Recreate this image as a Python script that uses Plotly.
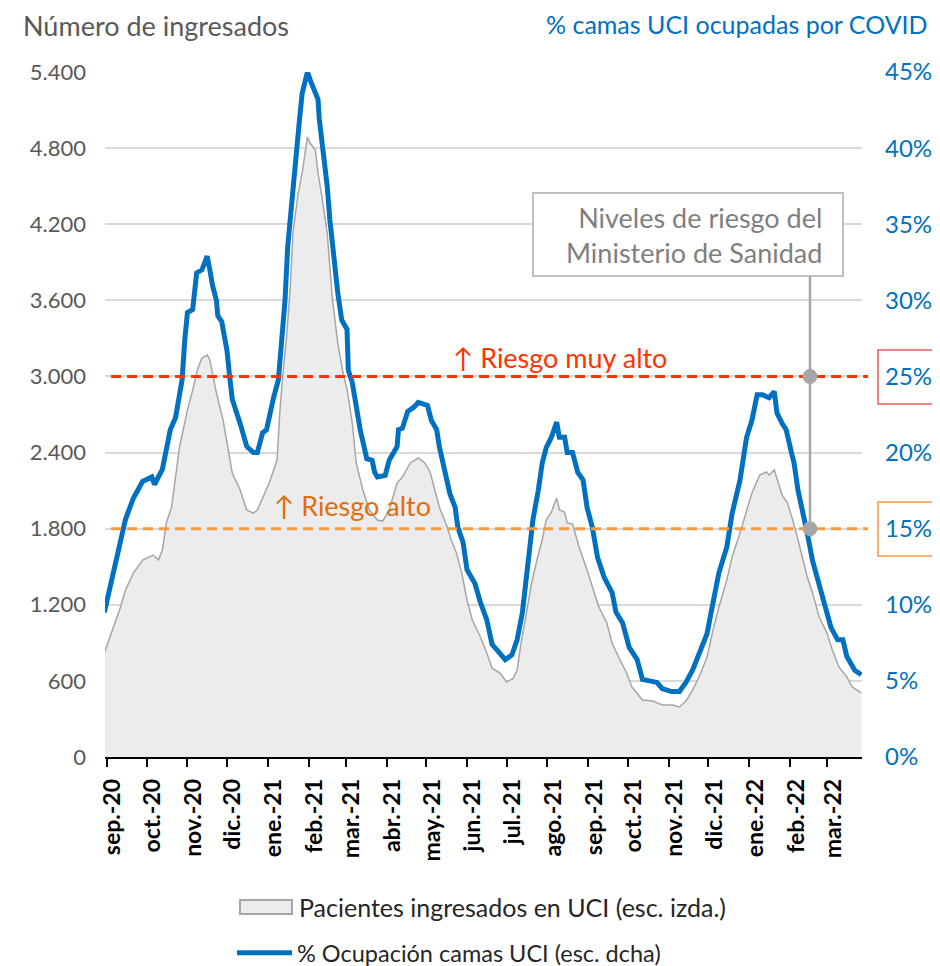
import pandas as pd
import plotly.graph_objects as go

# ---------------- data ----------------
base_date = "2020-09-01"  # day 0 of the day offsets below

# % ICU beds occupied by COVID (right axis)
occ_days = [-2, 8, 14, 20, 27, 34, 36, 42, 48, 52, 57, 59, 61, 65, 68, 72, 76, 78, 80, 83,
            84, 87, 91, 93, 95, 101, 106, 111, 114, 118, 121, 126, 130, 133, 135, 137, 140, 144, 146, 148,
            152, 154, 156, 160, 161, 164, 167, 169, 171, 175, 178, 182, 183, 186, 192, 197, 201, 203, 205, 211,
            214, 220, 221, 224, 228, 233, 236, 241, 243, 246, 250, 252, 256, 260, 264, 266, 270, 273, 279, 283,
            288, 292, 296, 302, 307, 311, 315, 319, 323, 327, 330, 333, 337, 341, 343, 347, 349, 353, 357, 361,
            364, 368, 372, 377, 383, 386, 391, 396, 402, 406, 411, 417, 421, 428, 434, 439, 444, 449, 455, 459,
            464, 470, 474, 480, 485, 489, 493, 497, 502, 506, 508, 512, 515, 519, 521, 524, 527, 531, 535, 539,
            544, 549, 554, 558, 561, 567, 572]
occ_pct = [9.5, 13.4, 15.6, 17.0, 18.1, 18.4, 17.9, 18.9, 21.5, 22.3, 24.8, 27.4, 29.2, 29.4, 31.8, 32.0, 32.9, 32.0, 31.0, 30.0,
           29.0, 28.6, 26.7, 25.0, 23.5, 21.9, 20.4, 20.0, 20.0, 21.3, 21.5, 23.5, 24.8, 27.9, 30.0, 33.5, 36.6, 40.1, 41.9, 43.6,
           45.0, 44.5, 44.0, 43.2, 41.9, 39.9, 37.5, 35.3, 33.5, 30.5, 28.7, 28.1, 25.4, 24.6, 21.5, 19.6, 19.5, 18.7, 18.4, 18.5,
           19.5, 20.4, 21.5, 21.6, 22.7, 23.0, 23.3, 23.1, 23.1, 22.1, 21.5, 20.4, 18.9, 17.3, 16.4, 15.1, 14.1, 12.3, 11.4, 10.2,
           9.0, 7.4, 7.0, 6.4, 6.7, 7.7, 9.5, 12.5, 15.6, 17.5, 19.3, 20.3, 21.0, 22.0, 21.0, 21.0, 20.0, 20.0, 18.7, 18.2,
           16.4, 15.1, 13.1, 11.8, 10.8, 9.5, 8.8, 7.2, 6.4, 5.1, 5.0, 4.9, 4.5, 4.3, 4.3, 4.9, 5.7, 6.8, 8.1, 9.9,
           12.1, 13.8, 16.0, 18.2, 21.0, 22.1, 23.8, 23.8, 23.6, 24.0, 22.6, 21.9, 21.5, 20.0, 19.3, 17.5, 16.4, 14.7, 12.9, 11.6,
           9.9, 8.5, 7.7, 7.7, 6.6, 5.7, 5.4]

# ICU patients (left axis)
pat_days = [-2, 5, 10, 14, 20, 27, 35, 39, 42, 45, 49, 55, 61, 65, 69, 72, 76, 78, 80, 83,
            88, 92, 95, 101, 106, 111, 114, 118, 123, 129, 131, 133, 136, 139, 141, 145, 148, 152, 154, 158,
            160, 163, 167, 169, 171, 175, 179, 182, 186, 189, 194, 199, 205, 209, 214, 220, 224, 230, 236, 241,
            245, 248, 252, 258, 261, 265, 269, 273, 277, 283, 288, 292, 298, 303, 308, 311, 314, 318, 322, 326,
            330, 333, 337, 341, 343, 347, 349, 353, 358, 364, 368, 373, 379, 383, 389, 394, 398, 406, 414, 421,
            429, 434, 439, 444, 449, 455, 459, 464, 470, 474, 480, 485, 489, 495, 500, 502, 506, 510, 512, 516,
            520, 524, 527, 531, 535, 540, 546, 550, 555, 561, 565, 572]
pat_val = [820, 1025, 1175, 1316, 1450, 1553, 1592, 1553, 1632, 1845, 1971, 2444, 2735, 2893, 3066, 3145, 3169, 3130, 3027, 2869,
           2657, 2420, 2239, 2105, 1947, 1923, 1947, 2042, 2160, 2341, 2712, 2972, 3287, 3705, 4131, 4446, 4604, 4888, 4840, 4785,
           4604, 4415, 4131, 3863, 3603, 3263, 3027, 2900, 2633, 2318, 2105, 1947, 1868, 1860, 1947, 2160, 2207, 2318, 2357, 2318,
           2247, 2128, 1971, 1813, 1711, 1608, 1450, 1238, 1080, 950, 820, 700, 662, 591, 620, 686, 899, 1135, 1372, 1553,
           1711, 1868, 1931, 2042, 1947, 1931, 1845, 1837, 1655, 1474, 1340, 1182, 1056, 899, 765, 662, 552, 449, 441, 410,
           410, 394, 441, 528, 631, 788, 977, 1182, 1395, 1577, 1766, 1947, 2081, 2223, 2247, 2223, 2263, 2128, 2065, 2002,
           1868, 1711, 1577, 1419, 1293, 1104, 977, 843, 710, 631, 552, 505]

month_ticks = ["2020-09-01", "2020-10-01", "2020-11-01", "2020-12-01", "2021-01-01", "2021-02-01",
               "2021-03-01", "2021-04-01", "2021-05-01", "2021-06-01", "2021-07-01", "2021-08-01",
               "2021-09-01", "2021-10-01", "2021-11-01", "2021-12-01", "2022-01-01", "2022-02-01", "2022-03-01"]
month_labels = ["sep.-20", "oct.-20", "nov.-20", "dic.-20", "ene.-21", "feb.-21", "mar.-21", "abr.-21",
                "may.-21", "jun.-21", "jul.-21", "ago.-21", "sep.-21", "oct.-21", "nov.-21", "dic.-21",
                "ene.-22", "feb.-22", "mar.-22"]

left_ticks = [0, 600, 1200, 1800, 2400, 3000, 3600, 4200, 4800, 5400]
left_labels = ["0", "600", "1.200", "1.800", "2.400", "3.000", "3.600", "4.200", "4.800", "5.400"]
right_ticks = [0, 5, 10, 15, 20, 25, 30, 35, 40, 45]
right_labels = ["0%", "5%", "10%", "15%", "20%", "25%", "30%", "35%", "40%", "45%"]

risk_very_high = 3000   # = 25 %
risk_high = 1800        # = 15 %

name_patients = "Pacientes ingresados en UCI (esc. izda.)"
name_occupancy = "% Ocupación camas UCI (esc. dcha)"

# ---------------- figure ----------------
base = pd.Timestamp(base_date)
x_occ = base + pd.to_timedelta(occ_days, unit="D")
x_pat = base + pd.to_timedelta(pat_days, unit="D")

FONT = "Lato"
BLUE = "#0070C0"
W, H = 940, 966
OFF = 8  # page body margin of the html page

fig = go.Figure()
fig.add_trace(go.Scatter(
    x=x_pat, y=pat_val, mode="lines", fill="tozeroy",
    line=dict(color="#A6A6A6", width=1.5), fillcolor="#ECECEC",
    name=name_patients, showlegend=False))
fig.add_trace(go.Scatter(
    x=x_occ, y=occ_pct, mode="lines", yaxis="y2",
    line=dict(color=BLUE, width=5),
    name=name_occupancy, legend="legend", showlegend=True))

# plot area in page pixels: x 105..862, y 72..757
def px_x(p):
    return (p - 105) / 757.0

def px_y(p):
    return (757 - p) / 685.0

shapes = [
    dict(type="line", xref="paper", x0=0.008, x1=1.008, yref="y", y0=risk_very_high, y1=risk_very_high,
         line=dict(color="#FF3300", width=3, dash="10px,6px")),
    dict(type="line", xref="paper", x0=0.008, x1=1.008, yref="y", y0=risk_high, y1=risk_high,
         line=dict(color="#F79A3E", width=3, dash="10px,6px")),
    # annotation box
    dict(type="rect", xref="paper", yref="paper", x0=px_x(533), x1=px_x(843), y0=px_y(276), y1=px_y(193),
         fillcolor="white", line=dict(color="#BFBFBF", width=2)),
    # connector
    dict(type="line", xref="paper", yref="paper", x0=px_x(810), x1=px_x(810), y0=px_y(276), y1=px_y(521),
         line=dict(color="#A6A6A6", width=2.5)),
    dict(type="circle", xref="paper", yref="y", xsizemode="pixel", ysizemode="pixel",
         xanchor=px_x(810), yanchor=risk_very_high, x0=-7, x1=7, y0=-7, y1=7,
         fillcolor="#A6A6A6", line=dict(color="#A6A6A6", width=1)),
    dict(type="circle", xref="paper", yref="y", xsizemode="pixel", ysizemode="pixel",
         xanchor=px_x(810), yanchor=risk_high, x0=-7, x1=7, y0=-7, y1=7,
         fillcolor="#A6A6A6", line=dict(color="#A6A6A6", width=1)),
    # boxes around 25% and 15%
    dict(type="rect", xref="paper", yref="paper", x0=px_x(878), x1=px_x(941), y0=px_y(404), y1=px_y(350),
         line=dict(color="#F05A5A", width=1.5)),
    dict(type="rect", xref="paper", yref="paper", x0=px_x(878), x1=px_x(941), y0=px_y(556), y1=px_y(502),
         line=dict(color="#F79646", width=1.5)),
    # legend symbol for the area series
    dict(type="rect", xref="paper", yref="paper", x0=px_x(240), x1=px_x(292), y0=px_y(914), y1=px_y(900),
         fillcolor="#ECECEC", line=dict(color="#A6A6A6", width=2)),
]

annotations = [
    dict(text="Número de ingresados", xref="paper", yref="paper", x=px_x(21), y=px_y(25),
         xanchor="left", yanchor="middle", showarrow=False, font=dict(family=FONT, size=27, color="#595959")),
    dict(text="% camas UCI ocupadas por COVID", xref="paper", yref="paper", x=px_x(930), y=px_y(24),
         xanchor="right", yanchor="middle", showarrow=False, font=dict(family=FONT, size=25, color=BLUE)),
    dict(text="↑ Riesgo muy alto", xref="paper", yref="paper", x=px_x(560), y=px_y(357),
         xanchor="center", yanchor="middle", showarrow=False, font=dict(family=FONT, size=27, color="#FF3300")),
    dict(text="↑ Riesgo alto", xref="paper", yref="paper", x=px_x(352), y=px_y(505),
         xanchor="center", yanchor="middle", showarrow=False, font=dict(family=FONT, size=27, color="#E46C0A")),
    dict(text="Niveles de riesgo del<br>Ministerio de Sanidad", xref="paper", yref="paper",
         x=px_x(824), y=px_y(235), xanchor="right", yanchor="middle", align="right", showarrow=False,
         font=dict(family=FONT, size=27, color="#7F7F7F")),
    # legend text for the area series
    dict(text=name_patients, xref="paper", yref="paper", x=px_x(297), y=px_y(907),
         xanchor="left", yanchor="middle", showarrow=False, font=dict(family=FONT, size=25, color="#262626")),
]

fig.update_layout(
    width=W, height=H, autosize=False,
    margin=dict(l=105 - OFF, r=W - (862 - OFF), t=72 - OFF, b=H - (757 - OFF), autoexpand=False),
    paper_bgcolor="white", plot_bgcolor="white",
    font=dict(family=FONT, color="#595959"),
    showlegend=True,
    shapes=shapes, annotations=annotations,
    xaxis=dict(type="date", automargin=False,
               range=[base - pd.Timedelta(days=1.5), base + pd.Timedelta(days=572.5)],
               tickvals=month_ticks, ticktext=month_labels, tickangle=-90,
               ticks="outside", ticklen=8, tickwidth=1.5, tickcolor="black",
               showline=True, linecolor="black", linewidth=1.5, showgrid=False, zeroline=False,
               tickfont=dict(family=FONT, size=23, color="black", weight="bold"),
               ticklabelshift=6, ticklabelstandoff=3),
    yaxis=dict(range=[0, 5400], tickvals=left_ticks, ticktext=left_labels, automargin=False,
               showgrid=True, gridcolor="#D9D9D9", gridwidth=1.5, zeroline=False,
               ticks="", ticklabelstandoff=18, showline=False,
               tickfont=dict(family=FONT, size=22, color="#595959")),
    yaxis2=dict(range=[0, 45], tickvals=right_ticks, ticktext=right_labels, overlaying="y", side="right",
                automargin=False,
                showgrid=False, zeroline=False, ticks="", ticklabelstandoff=22, showline=False,
                tickfont=dict(family=FONT, size=24, color=BLUE)),
    legend=dict(xref="container", yref="container", x=224 / W, y=1 - (953 - OFF) / H,
                xanchor="left", yanchor="middle",
                font=dict(family=FONT, size=23.5, color="#262626"), itemwidth=55,
                bgcolor="rgba(0,0,0,0)"),
)

fig.write_html("out.html")
